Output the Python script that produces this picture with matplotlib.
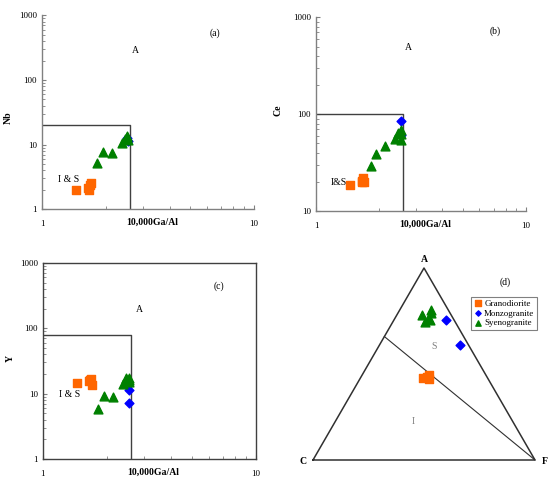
import numpy as np
import matplotlib
matplotlib.use('Agg')
import matplotlib.pyplot as plt
from matplotlib.ticker import LogLocator, NullFormatter, FixedFormatter, FixedLocator

plt.rcParams['font.family'] = ['Liberation Serif', 'DejaVu Serif']

# Granodiorite
gd_gaal = [1.45, 1.65, 1.68, 1.70, 1.66]
gd_nb = [2.0, 2.1, 2.4, 2.5, 2.0]
gd_ce = [18.4, 20.6, 21.9, 19.9, 20.2]
gd_y = [14.3, 15.6, 16.5, 13.5, 16.0]

# Monzogranite
mz_gaal = [2.53, 2.54]
mz_nb = [12.5, 11.5]
mz_ce = [85.3, 60.7]
mz_y = [11.3, 7.3]

# Syenogranite
sy_gaal = [1.82, 1.94, 2.13, 2.38, 2.46, 2.53, 2.55, 2.53]
sy_nb = [5.1, 7.6, 7.3, 10.7, 12.0, 12.9, 11.7, 13.5]
sy_ce = [29.0, 38.6, 46.7, 55.6, 64.1, 69.4, 54.7, 63.0]
sy_y = [5.8, 9.2, 8.9, 13.8, 17.5, 17.1, 15.0, 16.0]

# ACF ternary (A, C, F)
gd_acf = [(0.431, 0.273, 0.296), (0.445, 0.254, 0.301), (0.421, 0.269, 0.310), (0.433, 0.297, 0.286)]
mz_acf = [(0.730, 0.038, 0.232), (0.600, 0.038, 0.362)]
sy_acf = [(0.757, 0.131, 0.112), (0.783, 0.079, 0.138), (0.765, 0.084, 0.151),
          (0.736, 0.110, 0.154), (0.717, 0.137, 0.146), (0.730, 0.107, 0.163)]
acf_split = (0.643, 0.357, 0.0)

orange = '#ff6600'
blue = '#0000ff'
green = '#008000'
spine_col = '#808080'

fig = plt.figure(figsize=(5.5, 4.82), dpi=100)

def log_panel(rect, ydat, ylim, ylab, ylab_xy, box_y, tag, tag_xy, a_xy, is_xy, is_txt, full_frame=False):
    ax = fig.add_axes(rect)
    ax.set_xscale('log')
    ax.set_yscale('log')
    ax.set_xlim(1, 10)
    ax.set_ylim(*ylim)
    ax.scatter(gd_gaal, ydat[0], marker='s', s=38, color=orange, zorder=3)
    ax.scatter(mz_gaal, ydat[1], marker='D', s=20, color=blue, zorder=3)
    ax.scatter(sy_gaal, ydat[2], marker='^', s=40, color=green, zorder=4)
    ax.plot([1, 2.6, 2.6], [box_y, box_y, ylim[0]], color='#404040', lw=1.0, zorder=2)
    for side in ['top', 'right']:
        ax.spines[side].set_visible(full_frame)
    for side in ax.spines:
        ax.spines[side].set_color(spine_col if not full_frame else '#404040')
        ax.spines[side].set_linewidth(1.0)
    ax.tick_params(which='both', direction='in', colors=spine_col, labelcolor='black',
                   labelsize=6.5, top=False, right=False)
    ax.tick_params(which='major', length=3)
    ax.tick_params(which='minor', length=2)
    ax.xaxis.set_major_locator(FixedLocator([1, 10]))
    ax.xaxis.set_major_formatter(FixedFormatter(['1', '10']))
    ax.xaxis.set_minor_locator(LogLocator(base=10, subs=np.arange(2, 10)))
    ax.xaxis.set_minor_formatter(NullFormatter())
    yt = [v for v in [1, 10, 100, 1000] if ylim[0] <= v <= ylim[1]]
    ax.yaxis.set_major_locator(FixedLocator(yt))
    ax.yaxis.set_major_formatter(FixedFormatter([str(v) for v in yt]))
    ax.yaxis.set_minor_locator(LogLocator(base=10, subs=np.arange(2, 10)))
    ax.yaxis.set_minor_formatter(NullFormatter())
    ax.tick_params(axis='x', pad=8)
    ax.set_xlabel('10,000Ga/Al', fontsize=7, fontweight='bold')
    ax.xaxis.set_label_coords(0.52, -0.045)
    ax.set_ylabel(ylab, fontsize=7, fontweight='bold')
    ax.yaxis.set_label_coords(*ylab_xy)
    ax.text(tag_xy[0], tag_xy[1], tag, transform=ax.transAxes, fontsize=7)
    ax.text(a_xy[0], a_xy[1], 'A', transform=ax.transAxes, fontsize=7)
    ax.text(is_xy[0], is_xy[1], is_txt, transform=ax.transAxes, fontsize=7)
    return ax

log_panel([0.0764, 0.566, 0.385, 0.402], (gd_nb, mz_nb, sy_nb), (1, 1000), 'Nb', (-0.14, 0.47), 20,
          '(a)', (0.79, 0.895), (0.425, 0.805), (0.075, 0.14), 'I & S')
log_panel([0.5745, 0.562, 0.382, 0.402], (gd_ce, mz_ce, sy_ce), (10, 1000), 'Ce', (-0.16, 0.52), 100,
          '(b)', (0.825, 0.915), (0.425, 0.83), (0.07, 0.135), 'I&S')
log_panel([0.078, 0.0477, 0.387, 0.407], (gd_y, mz_y, sy_y), (1, 1000), 'Y', (-0.13, 0.515), 80,
          '(c)', (0.80, 0.87), (0.435, 0.75), (0.075, 0.315), 'I & S', full_frame=True)

# ternary panel (d)
axd = fig.add_axes([313 / 550, 22 / 482, 222 / 550, 192 / 482])
axd.set_xlim(0, 1)
axd.set_ylim(0, np.sqrt(3) / 2)
axd.axis('off')

def tern(pts):
    pts = np.array(pts)
    a, c, f = pts[:, 0], pts[:, 1], pts[:, 2]
    tot = a + c + f
    a, f = a / tot, f / tot
    return f + a / 2, a * np.sqrt(3) / 2

h = np.sqrt(3) / 2
axd.plot([0, 1, 0.5, 0], [0, 0, h, 0], color='#303030', lw=1.1, clip_on=False)
sx, sy_ = tern([acf_split])
axd.plot([sx[0], 1], [sy_[0], 0], color='#303030', lw=0.8, clip_on=False)

x, y = tern(gd_acf)
axd.scatter(x, y, marker='s', s=38, color=orange, label='Granodiorite', zorder=3, clip_on=False)
x, y = tern(mz_acf)
axd.scatter(x, y, marker='D', s=20, color=blue, label='Monzogranite', zorder=3, clip_on=False)
x, y = tern(sy_acf)
axd.scatter(x, y, marker='^', s=40, color=green, label='Syenogranite', zorder=4, clip_on=False)

axd.text(0.5, h + 0.02, 'A', ha='center', va='bottom', fontsize=7, fontweight='bold')
axd.text(-0.03, -0.005, 'C', ha='right', va='center', fontsize=7, fontweight='bold')
axd.text(1.03, -0.005, 'F', ha='left', va='center', fontsize=7, fontweight='bold')
axd.text(0.545, 0.589, 'S', ha='center', va='center', fontsize=7, color='#808080',
         transform=axd.transAxes)
axd.text(0.45, 0.198, 'I', ha='center', va='center', fontsize=7, color='#808080',
         transform=axd.transAxes)
axd.text(0.865, 0.927, '(d)', ha='center', va='center', fontsize=7, transform=axd.transAxes)

leg = axd.legend(loc='upper left', bbox_to_anchor=(0.71, 0.85), fontsize=6.5, frameon=True,
                 fancybox=False, edgecolor='#606060', handletextpad=0.2, borderpad=0.3,
                 labelspacing=0.15, handlelength=1.0, markerscale=0.6, borderaxespad=0)
leg.get_frame().set_linewidth(0.8)

fig.savefig('out.png', dpi=100)
